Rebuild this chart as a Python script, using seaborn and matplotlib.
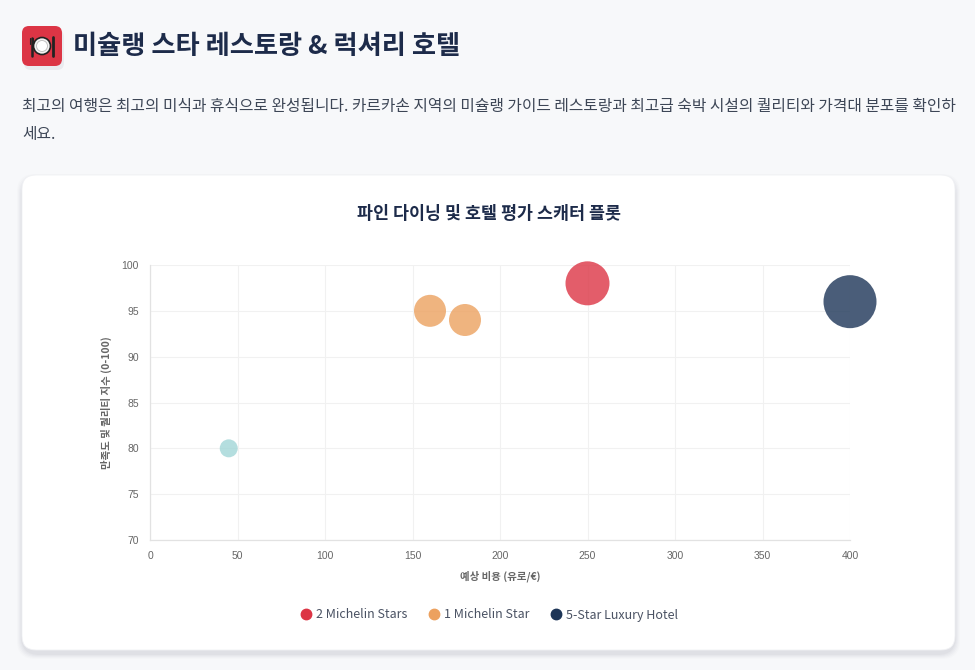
import numpy as np
import pandas as pd
import matplotlib
matplotlib.use('Agg')
import matplotlib.pyplot as plt
import seaborn as sns
from matplotlib.patches import FancyBboxPatch, Circle
from matplotlib.lines import Line2D

# ---------------- data ----------------
categories = ['2 Michelin Stars', '1 Michelin Star', '1 Michelin Star',
              '5-Star Luxury Hotel', 'Budget Stay']
costs = [250, 160, 180, 400, 45]
scores = [98, 95, 94, 96, 80]
radii = [22, 16, 16, 26.5, 9]
legend_labels = ['2 Michelin Stars', '1 Michelin Star', '5-Star Luxury Hotel']
palette = {'2 Michelin Stars': '#DC3545', '1 Michelin Star': '#ECA15F',
           '5-Star Luxury Hotel': '#1D3557', 'Budget Stay': '#A2D6D7'}
x_ticks = [0, 50, 100, 150, 200, 250, 300, 350, 400]
y_ticks = [70, 75, 80, 85, 90, 95, 100]

title = '미슐랭 스타 레스토랑 & 럭셔리 호텔'
desc1 = '최고의 여행은 최고의 미식과 휴식으로 완성됩니다. 카르카손 지역의 미슐랭 가이드 레스토랑과 최고급 숙박 시설의 퀄리티와 가격대 분포를 확인하'
desc2 = '세요.'
chart_title = '파인 다이닝 및 호텔 평가 스캐터 플롯'
x_label = '예상 비용 (유로/€)'
y_label = '만족도 및 퀄리티 지수 (0-100)'

# ---------------- style ----------------
sns.set_theme(style='white')
plt.rcParams['font.family'] = ['Noto Sans CJK KR', 'DejaVu Sans']

W, H = 975, 670
fig = plt.figure(figsize=(W / 100, H / 100), dpi=100)
fig.patch.set_facecolor('#F7F8FA')

# background axes in pixel coordinates
bg = fig.add_axes([0, 0, 1, 1])
bg.set_xlim(0, W)
bg.set_ylim(H, 0)
bg.axis('off')

# card shadow + card
for i, a in enumerate([0.012, 0.015, 0.02, 0.025, 0.03]):
    off = 10 - 2 * i
    bg.add_patch(FancyBboxPatch((22 - off / 2, 175 - off / 2 + 4), 933 + off, 475 + off,
                                boxstyle='round,pad=0,rounding_size=18',
                                fc='#1a2340', ec='none', alpha=a))
bg.add_patch(FancyBboxPatch((22, 175), 933, 475, boxstyle='round,pad=0,rounding_size=14',
                            fc='white', ec='#f0f1f4', lw=0.6))

# icon
bg.add_patch(FancyBboxPatch((24, 30), 40, 40, boxstyle='round,pad=0,rounding_size=7',
                            fc='#1a2340', ec='none', alpha=0.06))
bg.add_patch(FancyBboxPatch((22, 26), 40, 40, boxstyle='round,pad=0,rounding_size=7',
                            fc='#DC3545', ec='none'))
bg.add_patch(Circle((42, 46), 8.5, fc='#f2f2f2', ec='#222', lw=1.2))
bg.add_patch(Circle((42, 46), 5.5, fc='white', ec='#bbb', lw=0.6))
bg.plot([31.5, 31.5], [38, 56], color='#222', lw=1.8, solid_capstyle='round')
bg.plot([30, 30], [38, 44], color='#222', lw=0.8)
bg.plot([33, 33], [38, 44], color='#222', lw=0.8)
bg.plot([52.5, 52.5], [37, 56], color='#222', lw=2.0, solid_capstyle='round')

# header texts
bg.text(73, 47, title, fontsize=18.9, fontweight='bold', color='#1D2B4A',
        va='center', ha='left')
bg.text(22, 107, desc1, fontsize=11.35, color='#3d4656', va='center', ha='left')
bg.text(22, 134, desc2, fontsize=11.35, color='#3d4656', va='center', ha='left')
bg.text(489, 214, chart_title, fontsize=12.5, fontweight='bold', color='#1D2B4A',
        va='center', ha='center')

# ---------------- chart ----------------
df = pd.DataFrame({'cost': costs, 'score': scores, 'category': categories, 'r': radii})
df['s'] = (2 * df['r'] * 0.72) ** 2

ax = fig.add_axes([150 / W, 1 - 540 / H, 700 / W, 275 / H])
ax.set_facecolor('white')
sns.scatterplot(data=df, x='cost', y='score', hue='category', palette=palette,
                size='s', sizes=(df['s'].min(), df['s'].max()), alpha=0.8,
                linewidth=0, legend=False, ax=ax, zorder=3)
for coll in ax.collections:
    coll.set_clip_on(False)

ax.set_xlim(0, 400)
ax.set_ylim(70, 100)
ax.set_xticks(x_ticks)
ax.set_yticks(y_ticks)
ax.grid(True, color='#f1f1f1', lw=0.8)
ax.set_axisbelow(True)
for sp in ['top', 'right']:
    ax.spines[sp].set_visible(False)
for sp in ['left', 'bottom']:
    ax.spines[sp].set_color('#e2e2e2')
    ax.spines[sp].set_linewidth(0.9)
ax.tick_params(length=6, width=0.8, color='#f1f1f1', labelsize=7.5,
               labelcolor='#666666', pad=2)
for lab in ax.get_xticklabels() + ax.get_yticklabels():
    lab.set_family(['Liberation Sans', 'DejaVu Sans'])
ax.set_xlabel(x_label, fontsize=7.5, fontweight='bold', color='#666666', labelpad=7)
ax.set_ylabel(y_label, fontsize=7.5, fontweight='bold', color='#666666', labelpad=7)

# legend
handles = [Line2D([0], [0], marker='o', ls='none', markersize=7.5,
                  markerfacecolor=palette[c], markeredgecolor=palette[c], label=c)
           for c in legend_labels]
fig.legend(handles=handles, loc='center', bbox_to_anchor=(489 / W, 1 - 615 / H),
           ncol=3, frameon=False, fontsize=9, labelcolor='#4a5263',
           handletextpad=0.3, columnspacing=1.6, handlelength=1.0)

fig.savefig('out.png', dpi=100, facecolor=fig.get_facecolor())
